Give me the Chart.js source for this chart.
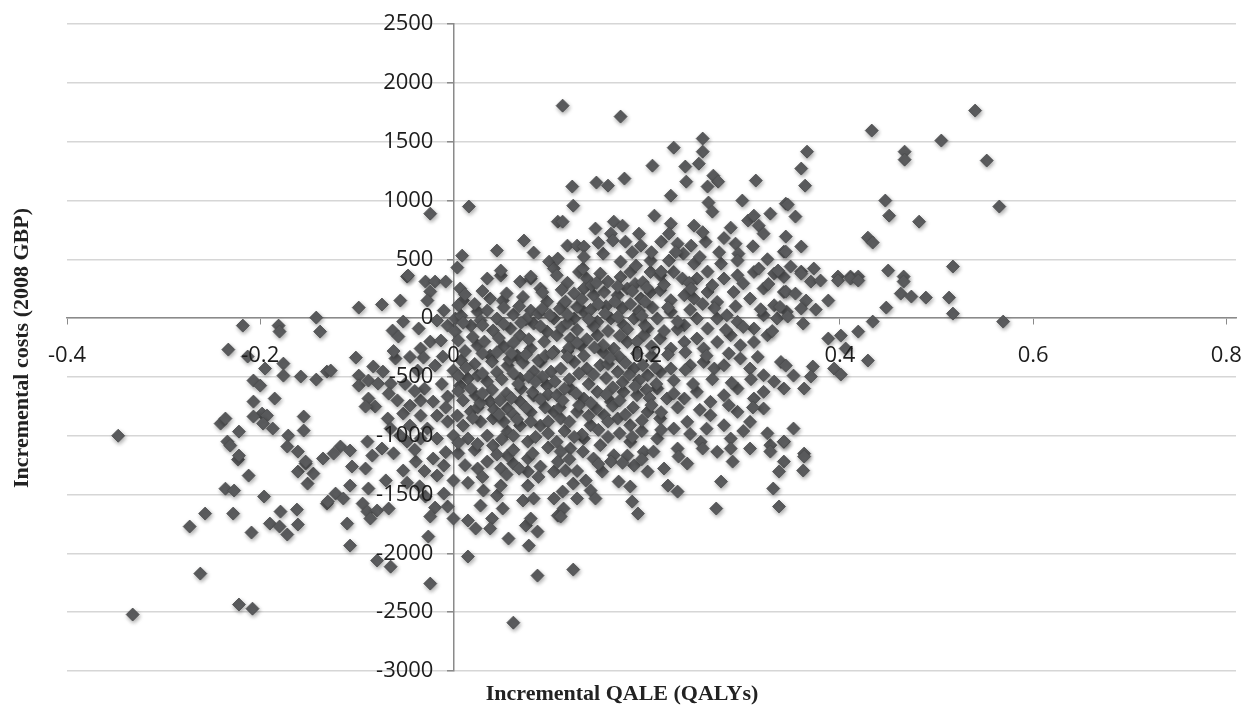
<!DOCTYPE html>
<html>
<head>
<meta charset="utf-8">
<script src="https://cdn.jsdelivr.net/npm/chart.js@4.4.1/dist/chart.umd.min.js"></script>
<style>
  html, body { margin: 0; padding: 0; background: #fff; }
  #wrap { width: 1248px; height: 712px; position: relative; }
</style>
</head>
<body>
<div id="wrap"><canvas id="ce"></canvas></div>
<script>
// axis ticks
const xTicks = [-0.4, -0.2, 0, 0.2, 0.4, 0.6, 0.8];
const yMin = -3000, yMax = 2500, yStep = 500;
const xTitle = 'Incremental QALE (QALYs)';
const yTitle = 'Incremental costs (2008 GBP)';

// [incremental QALE, incremental cost], grouped by area
const westCloud = [
  [-0.347,-1000],[-0.332,-2520],[-0.273,-1772],[-0.257,-1662],[-0.262,-2172],[-0.222,-2435],[-0.208,-2470],
  [-0.236,-1450],[-0.227,-1466],[-0.228,-1662],[-0.212,-1339],[-0.209,-1823],[-0.196,-1517],[-0.179,-1645],
  [-0.190,-1747],[-0.180,-1772],[-0.172,-1840],[-0.162,-1628],[-0.161,-1755],[-0.161,-1305],[-0.151,-1407],
  [-0.145,-1322],[-0.153,-1237],[-0.131,-1577],[-0.223,-1203],
  [-0.218,-64],[-0.181,-64],[-0.180,-115],[-0.142,4],[-0.138,-115],[-0.233,-268],[-0.213,-327],[-0.195,-429],
  [-0.176,-387],[-0.176,-489],[-0.158,-497],[-0.142,-523],[-0.131,-455],[-0.207,-531],[-0.200,-574],
  [-0.207,-710],[-0.185,-684],[-0.198,-812],[-0.207,-837],[-0.193,-829],[-0.197,-897],[-0.241,-897],
  [-0.236,-854],[-0.222,-965],[-0.234,-1050],[-0.231,-1084],[-0.222,-1169],[-0.187,-939],[-0.171,-999],
  [-0.155,-837],[-0.155,-956],[-0.172,-1092],[-0.161,-1135],[-0.153,-1220],[-0.135,-1194],[-0.127,-446]
];

const midCloud = [
  [-0.048,353],[-0.029,310],[-0.019,310],[-0.008,310],[-0.024,225],[-0.098,89],[-0.074,115],[-0.055,149],
  [-0.027,149],[-0.010,64],[-0.052,-30],[-0.063,-106],[-0.057,-157],[-0.036,-89],[-0.017,-21],[-0.006,-64],
  [0.002,-4],[0.002,-115],[-0.024,-200],[-0.013,-191],[-0.034,-259],[-0.031,-336],[-0.101,-336],
  [-0.083,-412],[-0.060,-344],[-0.073,-455],[-0.098,-489],[-0.098,-574],[-0.088,-531],[-0.078,-557],
  [-0.065,-557],[-0.067,-642],[-0.088,-684],[-0.081,-752],[-0.091,-752],[-0.037,-446],[-0.019,-404],
  [-0.011,-327],[0.000,-446],[-0.052,-812],[-0.045,-744],[-0.034,-701],[-0.021,-710],[-0.006,-667],
  [-0.034,-829],[-0.017,-829],[-0.045,-914],[-0.027,-939],[-0.006,-880],[-0.055,-999],[-0.068,-854],
  [-0.065,-939],[-0.048,-1050],[-0.034,-1024],[-0.017,-1024],[0.000,-999],[-0.089,-1050],[-0.074,-1109],
  [-0.117,-1092],[-0.107,-1126],[-0.124,-1152],
  [-0.024,888],[0.016,948],[0.009,531],[0.004,429],[-0.047,361],
  [-0.105,-1262],[-0.091,-1279],[-0.084,-1169],[-0.052,-1296],[-0.039,-1220],[-0.021,-1194],[-0.010,-1254],
  [-0.017,-1339],[0.000,-1381],[-0.107,-1424],[-0.088,-1449],[-0.122,-1492],[-0.130,-1560],[-0.114,-1534],
  [-0.094,-1577],[-0.089,-1645],[-0.079,-1636],[-0.086,-1704],[-0.067,-1619],[-0.110,-1747],[-0.107,-1934],
  [-0.029,-1517],[-0.019,-1611],[-0.006,-1602],[-0.024,-1687],[-0.010,-1492],[-0.026,-1857],[-0.079,-2061],
  [-0.065,-2113],[-0.024,-2257],[0.000,-1704],
  [-0.062,-280],[-0.045,-330],[-0.050,-560],[-0.030,-600],[-0.012,-560],[-0.058,-700],[-0.040,-620],
  [-0.008,-760],[-0.062,-1150],[-0.040,-1120],[-0.008,-1140],[-0.030,-1300],[-0.048,-1400],[-0.070,-1380],
  [-0.035,-1430]
];

const coreCloud = [
  [0.007,-574],[0.015,-514],[0.025,-489],[0.035,-540],[0.023,-659],[0.038,-710],[0.018,-795],[0.004,-829],
  [0.010,-914],[0.028,-880],[0.041,-854],[0.056,-769],[0.069,-710],[0.083,-659],[0.097,-574],[0.015,-1024],
  [0.035,-999],[0.041,-1084],[0.056,-965],[0.069,-914],[0.077,-1050],[0.090,-914],[0.104,-795],
  [0.007,251],[0.010,149],[0.035,336],[0.049,361],[0.038,166],[0.051,149],[0.069,310],[0.080,336],
  [0.090,251],[0.097,140],[0.080,64],[0.025,55],[0.035,64],[0.045,-4],[0.018,-64],[0.041,-106],[0.059,-89],
  [0.069,-149],[0.083,-47],[0.097,-115],[0.104,-4],[0.025,-234],[0.038,-319],[0.052,-242],[0.066,-319],
  [0.080,-259],[0.090,-370],[0.104,-285],[0.056,-404],[0.069,-514],[0.083,-455],[0.101,-455],
  [0.045,574],[0.073,659],[0.083,557],[0.099,480],[0.108,820],[0.113,1806],[0.049,404],[0.080,353],[0.104,421],
  [0.015,-2027],[0.062,-2589],[0.087,-2189],[0.028,-1594],[0.040,-1704],[0.038,-1789],[0.051,-1619],
  [0.015,-1721],[0.023,-1789],[0.057,-1874],[0.078,-1934],[0.075,-1764],[0.080,-1704],[0.087,-1815],
  [0.031,-1466],[0.045,-1509],[0.049,-1424],[0.072,-1551],[0.077,-1424],[0.083,-1534],[0.108,-1679],
  [0.025,-1279],[0.035,-1220],[0.049,-1279],[0.062,-1237],[0.077,-1305],[0.090,-1262],[0.104,-1305],
  [0.077,-1194],[0.056,-1169],
  [0.012,200],[0.030,230],[0.055,210],[0.072,180],[0.092,220],
  [0.008,20],[0.028,-20],[0.062,30],[0.075,-10],[0.088,40],
  [0.005,-190],[0.020,-160],[0.032,-200],[0.047,-170],[0.062,-210],[0.078,-180],[0.094,-200],
  [0.008,-360],[0.022,-390],[0.040,-370],[0.058,-350],[0.072,-380],[0.088,-360],
  [0.005,-620],[0.018,-600],[0.040,-610],[0.055,-640],[0.070,-600],[0.082,-630],[0.098,-650],
  [0.025,-760],[0.042,-780],[0.062,-820],[0.080,-800],[0.095,-760],
  [0.005,-1150],[0.022,-1120],[0.045,-1160],[0.062,-1120],[0.082,-1150],[0.098,-1100],
  [0.005,110],[0.022,120],[0.052,90],[0.068,100],[0.092,80],
  [0.010,-40],[0.030,-60],[0.052,-50],[0.070,-40],[0.090,-70],
  [0.012,-280],[0.030,-300],[0.045,-290],[0.060,-300],[0.075,-310],[0.095,-320],
  [0.005,-490],[0.030,-470],[0.045,-460],[0.062,-470],[0.078,-500],[0.092,-500],
  [0.010,-700],[0.028,-720],[0.048,-700],[0.060,-680],[0.090,-690],
  [0.020,-850],[0.052,-880],[0.066,-860],[0.080,-880],[0.098,-880],
  [0.005,-1060],[0.025,-1070],[0.050,-1030],[0.062,-1000],[0.085,-1010],[0.098,-980],
  [0.012,-1250],[0.030,-1350],[0.055,-1330],[0.068,-1280],[0.088,-1350],[0.015,-1400],
  [0.013,-420],[0.050,-520],[0.067,-560],[0.085,-540],[0.030,-640],[0.047,-820],[0.075,-760]
];

const centralCloud = [
  [0.107,364],[0.130,392],[0.138,336],[0.152,378],[0.173,350],[0.183,392],[0.204,392],[0.214,364],
  [0.228,392],[0.237,336],[0.252,336],[0.280,336],[0.294,364],[0.311,392],[0.332,378],[0.342,350],
  [0.114,123],[0.135,251],[0.145,194],[0.156,222],[0.170,194],[0.180,251],[0.194,166],[0.204,222],
  [0.214,237],[0.225,152],[0.239,194],[0.249,166],[0.263,222],[0.273,137],[0.290,222],[0.307,166],
  [0.321,251],[0.332,109],[0.342,222],
  [0.100,24],[0.125,-4],[0.135,53],[0.149,-32],[0.163,-4],[0.176,-61],[0.187,-4],[0.201,-89],[0.211,-4],
  [0.225,53],[0.239,-61],[0.252,-4],[0.263,-89],[0.273,-4],[0.283,24],[0.294,-32],[0.311,-89],[0.321,24],
  [0.335,-4],[0.345,53],
  [0.107,-146],[0.121,-174],[0.132,-231],[0.149,-146],[0.166,-259],[0.180,-203],[0.197,-146],[0.214,-174],
  [0.225,-259],[0.239,-203],[0.252,-174],[0.259,-259],[0.273,-203],[0.287,-146],[0.297,-231],[0.311,-203],
  [0.325,-146],
  [0.111,-429],[0.125,-373],[0.138,-429],[0.152,-401],[0.170,-457],[0.187,-429],[0.201,-486],[0.214,-457],
  [0.225,-429],[0.245,-401],[0.259,-373],[0.270,-429],[0.280,-401],[0.297,-344],[0.307,-429],[0.321,-486],
  [0.339,-373],
  [0.107,-656],[0.121,-599],[0.135,-684],[0.149,-627],[0.163,-712],[0.176,-627],[0.190,-656],[0.211,-599],
  [0.221,-684],[0.239,-684],[0.252,-627],[0.266,-712],[0.280,-656],[0.294,-599],[0.311,-684],[0.321,-627],
  [0.342,-599],
  [0.111,-854],[0.128,-797],[0.142,-911],[0.156,-826],[0.170,-854],[0.183,-911],[0.201,-797],[0.214,-854],
  [0.228,-939],[0.242,-882],[0.266,-826],[0.280,-911],[0.294,-797],[0.307,-882],[0.321,-769],
  [0.107,-1052],[0.121,-1109],[0.135,-1024],[0.152,-1080],[0.166,-1166],[0.183,-1052],[0.197,-1137],
  [0.211,-1024],[0.232,-1109],[0.256,-1052],[0.273,-1137],[0.287,-1024],[0.307,-1109],[0.328,-1080],
  [0.342,-1052],
  [0.118,300],[0.143,280],[0.160,310],[0.188,290],[0.196,305],
  [0.110,80],[0.128,95],[0.142,70],[0.158,100],[0.175,85],[0.192,60],[0.206,90],
  [0.112,-80],[0.128,-100],[0.145,-70],[0.160,-110],[0.180,-95],[0.198,-60],
  [0.102,-300],[0.118,-280],[0.135,-320],[0.155,-290],[0.172,-330],[0.190,-300],[0.205,-320],
  [0.105,-540],[0.120,-520],[0.140,-560],[0.158,-510],[0.175,-545],[0.192,-530],[0.210,-560],
  [0.110,-760],[0.130,-740],[0.148,-770],[0.165,-745],[0.186,-760],
  [0.115,-960],[0.133,-990],[0.150,-950],[0.172,-980],[0.195,-960],
  [0.111,-1135],[0.134,-1135],[0.145,-1194],[0.163,-1220],[0.180,-1169],[0.187,-1254],[0.201,-1305],
  [0.207,-1135],[0.218,-1279],[0.233,-1177],[0.242,-1237],[0.258,-1109],[0.287,-1109],[0.289,-1220],
  [0.328,-1135],[0.342,-1220],[0.337,-1305],[0.277,-1390],[0.331,-1449],[0.272,-1619],[0.337,-1602],
  [0.222,-1424],[0.232,-1475],[0.171,-1390],[0.183,-1432],[0.185,-1560],[0.191,-1662],[0.113,-1475],
  [0.124,-1407],[0.137,-1381],[0.142,-1466],[0.147,-1534],[0.128,-1534],[0.114,-1619],[0.111,-1687],
  [0.104,-1534],[0.124,-2138],[0.108,-1220],[0.116,-1296],[0.154,-1305],
  [0.112,240],[0.148,300],[0.170,270],[0.125,210],[0.185,230],[0.200,260],
  [0.118,-40],[0.138,-180],[0.155,-230],[0.172,-150],[0.190,-200],[0.205,-240],[0.120,-250],
  [0.115,-600],[0.130,-470],[0.145,-480],[0.165,-590],[0.182,-480],[0.200,-610],[0.160,-390],
  [0.120,-880],[0.140,-830],[0.160,-880],[0.178,-820],[0.195,-870],[0.125,-1010],[0.160,-1010],[0.185,-1010],
  [0.120,-1200],[0.150,-1240],[0.175,-1230],[0.195,-1200],[0.128,-1300],
  [0.118,-330],[0.128,-210],[0.146,-250],[0.162,-340],[0.178,-380],[0.196,-400],[0.209,-420],
  [0.113,-700],[0.127,-640],[0.142,-720],[0.158,-650],[0.172,-700],[0.188,-580],[0.203,-680],
  [0.116,140],[0.133,160],[0.150,120],[0.167,140],[0.183,120],[0.198,140],
  [0.118,30],[0.140,-10],[0.157,40],[0.170,10],[0.195,20]
];

const eastCoreCloud = [
  [0.218,285],[0.244,300],[0.268,280],[0.300,295],[0.326,290],
  [0.222,90],[0.245,70],[0.270,85],[0.292,100],[0.318,75],[0.338,95],
  [0.218,-110],[0.232,-95],[0.282,-100],[0.300,-75],[0.330,-110],
  [0.222,-310],[0.240,-290],[0.262,-320],[0.285,-300],[0.315,-330],
  [0.228,-530],[0.248,-560],[0.268,-520],[0.288,-550],[0.308,-520],[0.332,-540],
  [0.205,-740],[0.232,-760],[0.255,-780],[0.285,-740],[0.310,-760],
  [0.215,-950],[0.245,-985],[0.262,-940],[0.300,-960],[0.325,-980],
  [0.215,-800],[0.228,-640],[0.240,-440],[0.232,-30],[0.246,250],[0.258,120]
];

const upperCloud = [
  [0.173,1713],[0.258,1526],[0.228,1449],[0.258,1415],[0.254,1313],[0.206,1296],[0.240,1288],[0.269,1211],
  [0.274,1160],[0.263,1118],[0.241,1160],[0.313,1169],[0.123,1118],[0.148,1152],[0.160,1126],[0.177,1186],
  [0.124,956],[0.225,1041],[0.264,982],[0.268,905],[0.299,999],[0.113,820],[0.208,871],[0.147,761],
  [0.166,820],[0.175,786],[0.163,718],[0.225,803],[0.249,786],[0.287,769],[0.305,829],[0.311,871],
  [0.316,786],[0.321,718],[0.328,888],[0.344,973],[0.344,693],[0.118,616],[0.128,616],[0.135,608],
  [0.155,548],[0.165,659],[0.178,650],[0.192,718],[0.194,616],[0.215,650],[0.223,718],[0.232,633],
  [0.246,616],[0.261,650],[0.292,633],[0.295,548],[0.342,565],[0.108,506],[0.134,421],[0.173,480],
  [0.189,446],[0.204,489],[0.223,489],[0.238,548],[0.249,463],[0.277,463],[0.294,489],[0.316,421],
  [0.336,404],[0.215,395],[0.263,395],
  [0.135,520],[0.150,640],[0.185,560],[0.205,560],[0.230,560],[0.255,520],[0.275,560],[0.310,610],
  [0.325,500],[0.280,680],[0.258,730]
];

const eastCloud = [
  [0.540,1764],[0.433,1594],[0.505,1509],[0.467,1415],[0.467,1347],[0.552,1339],[0.366,1415],[0.360,1271],
  [0.364,1126],[0.346,965],[0.354,863],[0.447,999],[0.451,871],[0.482,820],[0.565,948],[0.429,684],
  [0.434,642],[0.344,565],[0.360,608],[0.517,438],[0.450,404],[0.349,438],[0.360,395],[0.373,421],
  [0.398,353],[0.411,353],[0.419,353],[0.466,353],
  [0.360,378],[0.370,310],[0.380,319],[0.398,319],[0.411,336],[0.419,319],[0.466,310],[0.344,225],
  [0.354,208],[0.365,149],[0.388,149],[0.360,81],[0.375,72],[0.463,208],[0.474,183],[0.489,174],
  [0.513,174],[0.448,89],[0.517,38],[0.569,-30],[0.434,-30],[0.419,-115],[0.401,-149],[0.388,-174],
  [0.406,-259],[0.429,-361],[0.362,-47],[0.346,13],[0.394,-429],[0.401,-480],[0.372,-412],[0.370,-497],
  [0.344,-404],[0.352,-489],[0.363,-599],[0.352,-939],[0.342,-1050],[0.363,-1152],[0.363,-1177],
  [0.362,-1296]
];

const allPoints = [].concat(westCloud, midCloud, coreCloud, centralCloud, eastCoreCloud, upperCloud, eastCloud)
  .map(p => ({ x: p[0], y: p[1] }));

const tickFamily = '"Open Sans", "DejaVu Sans", sans-serif';
const tickColor = '#1c1c1c';
const fmtX = v => String(Math.round(v * 10) / 10);

// soft drop shadow under the diamonds
const shadowPlugin = {
  id: 'markerShadow',
  beforeDatasetsDraw(chart) {
    const ctx = chart.ctx;
    ctx.save();
    ctx.shadowColor = 'rgba(0,0,0,0.35)';
    ctx.shadowBlur = 4;
    ctx.shadowOffsetX = 1;
    ctx.shadowOffsetY = 2;
  },
  afterDatasetsDraw(chart) {
    chart.ctx.restore();
  }
};

// tick labels of the crossing axes are painted on top of the markers, as in the original
const tickLabelPlugin = {
  id: 'tickLabels',
  afterDraw(chart) {
    const ctx = chart.ctx;
    const xs = chart.scales.x;
    const ys = chart.scales.y;
    const axisX = xs.getPixelForValue(0);
    const axisY = ys.getPixelForValue(0);
    ctx.save();
    ctx.fillStyle = tickColor;
    ctx.font = '22px ' + tickFamily;
    ctx.textBaseline = 'middle';
    ctx.textAlign = 'right';
    ys.ticks.forEach(t => {
      ctx.fillText(String(t.value), axisX - 20, ys.getPixelForValue(t.value));
    });
    ctx.textAlign = 'center';
    xs.ticks.forEach(t => {
      ctx.fillText(fmtX(t.value), xs.getPixelForValue(t.value), axisY + 38);
    });
    ctx.restore();
  }
};

// axis titles sit at the page edges, not next to the crossing axes
const titlePlugin = {
  id: 'edgeTitles',
  afterDraw(chart) {
    const ctx = chart.ctx;
    ctx.save();
    ctx.fillStyle = '#222';
    ctx.font = 'bold 22px "Liberation Serif", "DejaVu Serif", serif';
    ctx.textAlign = 'center';
    ctx.textBaseline = 'middle';
    ctx.fillText(xTitle, 622, 694);
    ctx.translate(22, 348);
    ctx.rotate(-Math.PI / 2);
    ctx.fillText(yTitle, 0, 0);
    ctx.restore();
  }
};

new Chart(document.getElementById('ce'), {
  type: 'scatter',
  data: {
    datasets: [{
      label: 'ICER',
      data: allPoints,
      pointStyle: 'rectRot',
      pointRadius: 6.5,
      pointHoverRadius: 6.5,
      backgroundColor: '#5c5d5f',
      borderColor: '#4a4b4d',
      borderWidth: 0.8
    }]
  },
  options: {
    responsive: true,
    maintainAspectRatio: false,
    animation: false,
    events: [],
    layout: { padding: { left: 67, right: 12, top: 24, bottom: 41 } },
    plugins: {
      legend: { display: false },
      tooltip: { enabled: false }
    },
    scales: {
      x: {
        type: 'linear',
        position: { y: 0 },
        min: -0.4,
        max: 0.81,
        afterBuildTicks: scale => { scale.ticks = xTicks.map(v => ({ value: v })); },
        grid: { drawOnChartArea: false, drawTicks: true, tickLength: 6, tickColor: '#8a8a8a' },
        border: { display: true, color: '#8a8a8a', width: 1.5 },
        ticks: { display: false }
      },
      y: {
        type: 'linear',
        position: { x: 0 },
        min: yMin,
        max: yMax,
        grid: { color: '#d6d6d6', lineWidth: 1.5, drawTicks: true, tickLength: 6, tickColor: '#8a8a8a' },
        border: { display: true, color: '#8a8a8a', width: 1.5 },
        ticks: { stepSize: yStep, display: false }
      }
    }
  },
  plugins: [shadowPlugin, tickLabelPlugin, titlePlugin]
});
</script>
</body>
</html>
